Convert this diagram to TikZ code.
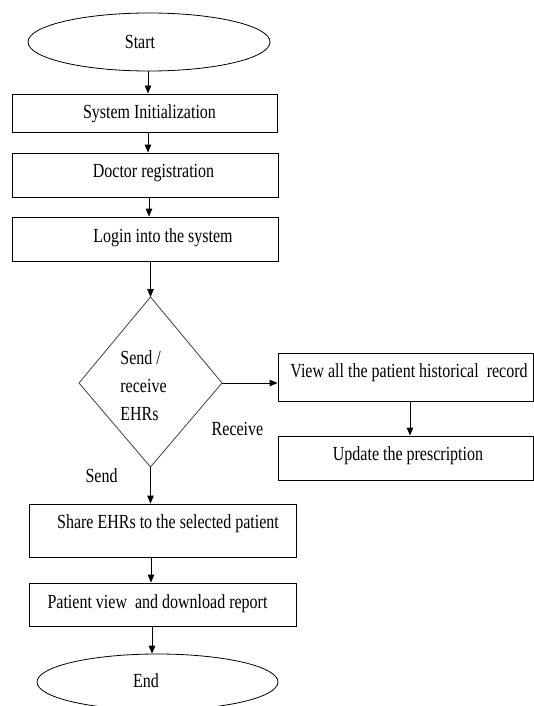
\documentclass[tikz,border=0pt]{standalone}
\usepackage{fontspec}
\setmainfont{Liberation Serif}[FakeStretch=0.8]
\usetikzlibrary{arrows.meta,shapes.geometric}
\begin{document}
\begin{tikzpicture}[x=1pt,y=-1pt,
  every node/.style={font=\fontsize{20}{28}\selectfont},
  box/.style={draw, line width=0.9pt, rectangle, inner sep=0pt},
  oval/.style={draw, ellipse, line width=0.8pt, inner sep=0pt},
  arr/.style={-{Triangle[length=8pt,width=6.5pt]}, line width=0.9pt},
  txt/.style={inner sep=0pt}
]
\useasboundingbox (0,0) rectangle (534,706);

% Start
\node[oval, minimum width=242pt, minimum height=58pt] (start) at (149,42) {};
\node[txt] (startT) at (140,42) {Start};

% System Initialization
\node[box, minimum width=265pt, minimum height=38pt] (sys) at (144.5,113) {};
\node[txt] (sysT) at (149.5,114) {System Initialization};

% Doctor registration
\node[box, minimum width=266pt, minimum height=44pt] (doc) at (145,175) {};
\node[txt] (docT) at (153.5,173) {Doctor registration};

% Login
\node[box, minimum width=266pt, minimum height=44pt] (login) at (145,239) {};
\node[txt] (loginT) at (163,238) {Login into the system};

% Decision diamond
\coordinate (dT) at (150.5,297);
\coordinate (dR) at (222,383);
\coordinate (dB) at (150.5,467);
\coordinate (dL) at (79,383);
\draw[line width=0.8pt, draw=black!75] (dT) -- (dR) -- (dB) -- (dL) -- cycle;
\node[txt, align=left] (decT) at (143.5,386) {Send /\\receive\\EHRs};

% View all
\node[box, minimum width=255pt, minimum height=48pt] (view) at (405.5,377) {};
\node[txt] (viewT) at (409,373) {View all the patient historical\ \ record};

% Update
\node[box, minimum width=255pt, minimum height=44pt] (upd) at (405.5,458) {};
\node[txt] (updT) at (408,456) {Update the prescription};

% Share
\node[box, minimum width=267pt, minimum height=53pt] (share) at (162.5,530.5) {};
\node[txt] (shareT) at (168,524) {Share EHRs to the selected patient};

% Patient view
\node[box, minimum width=267pt, minimum height=43pt] (pview) at (162.5,604.5) {};
\node[txt] (pviewT) at (157.5,604) {Patient view\ \ and download report};

% End
\node[oval, minimum width=241pt, minimum height=56pt] (end) at (157.5,682) {};
\node[txt] (endT) at (146,681) {End};

% Labels
\node[txt] (recv) at (237.5,429) {Receive};
\node[txt] (send) at (101.5,476) {Send};

% Connectors
\draw[arr] (148,0 |- start.south) -- (148,0 |- sys.north);
\draw[arr] (148,0 |- sys.south) -- (148,0 |- doc.north);
\draw[arr] (149,0 |- doc.south) -- (149,0 |- login.north);
\draw[arr] (login.south -| dT) -- (dT);
\draw[arr] (dR) -- (dR -| view.west);
\draw[arr] (410,0 |- view.south) -- (410,0 |- upd.north);
\draw[arr] (dB) -- (dB |- share.north);
\draw[arr] (151,0 |- share.south) -- (151,0 |- pview.north);
\draw[arr] (152,0 |- pview.south) -- (152,0 |- end.north);
\end{tikzpicture}
\end{document}
